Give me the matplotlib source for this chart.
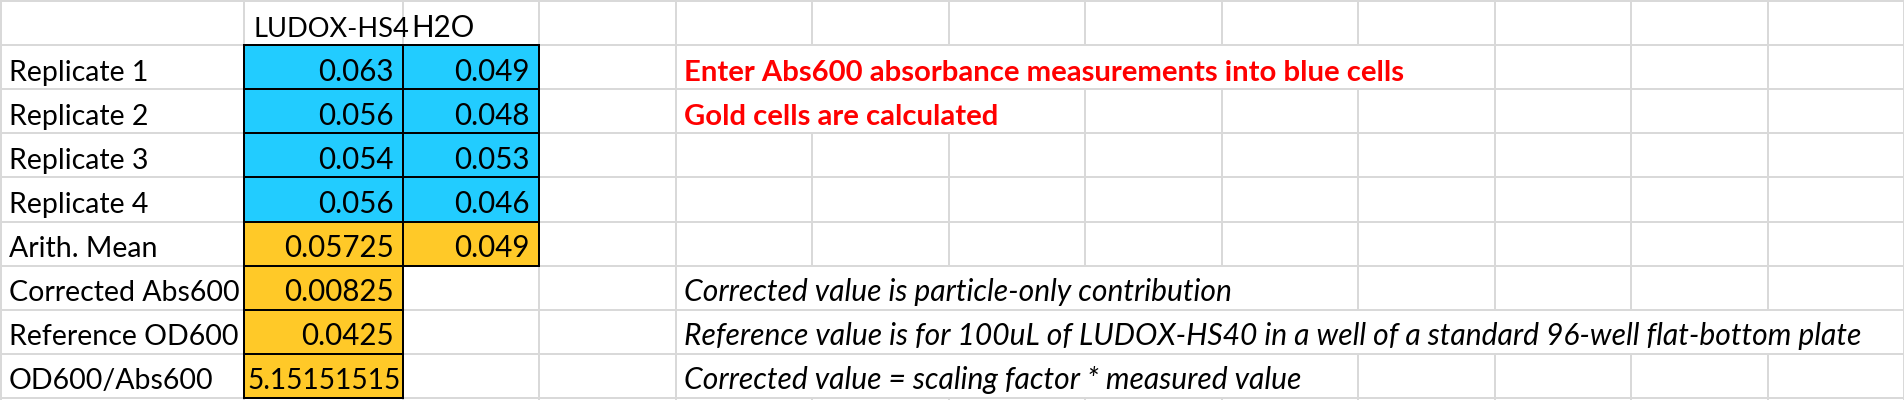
import matplotlib

matplotlib.use("Agg")
import matplotlib.pyplot as plt
from matplotlib.patches import Rectangle

# sheet content
header = ["LUDOX-HS4", "H2O"]
row_labels = ["Replicate 1", "Replicate 2", "Replicate 3", "Replicate 4", "Arith. Mean",
              "Corrected Abs600", "Reference OD600", "OD600/Abs600"]
ludox = [0.063, 0.056, 0.054, 0.056, 0.05725, 0.00825, 0.0425, 5.15151515]
h2o = [0.049, 0.048, 0.053, 0.046, 0.049]
ludox_kind = ["in", "in", "in", "in", "calc", "calc", "calc", "calc"]
h2o_kind = ["in", "in", "in", "in", "calc"]

# (sheet row, note text, style, last column the text runs over)
notes = [
    (1, "Enter Abs600 absorbance measurements into blue cells", "red", 9),
    (2, "Gold cells are calculated", "red", 6),
    (6, "Corrected value is particle-only contribution", "italic", 8),
    (7, "Reference value is for 100uL of LUDOX-HS40 in a well of a standard 96-well flat-bottom plate",
     "italic", 12),
    (8, "Corrected value = scaling factor * measured value", "italic", 8),
]

BLUE = "#22CCFF"
GOLD = "#FFC928"
GRID = "#D9D9D9"
FILL = {"in": BLUE, "calc": GOLD}

W, H = 1904, 400
col_x = [1, 244, 403, 539] + [539 + 136.5 * k for k in range(1, 11)]
row_y = [1 + 44.1 * i for i in range(10)]


def px(p):
    return p * 72 / 100


FS = px(29.5)        # values
FS_LABEL = px(28.5)  # row labels
FS_RED = px(29.3)
FS_NOTE = px(30.0)
LW = px(2)
plt.rcParams["font.family"] = ["Lato", "DejaVu Sans"]

fig = plt.figure(figsize=(W / 100, H / 100), dpi=100)
ax = fig.add_axes([0, 0, 1, 1])
ax.set_xlim(0, W)
ax.set_ylim(H, 0)
ax.axis("off")

# gridlines hidden where note text overflows into neighbour cells
hidden = set()
for r, _, _, last in notes:
    for j in range(5, last + 1):
        hidden.add((r, j))

for y in row_y:
    ax.plot([0, W], [y, y], color=GRID, lw=LW, solid_capstyle="butt", zorder=1)
for r in range(len(row_y)):
    y0 = row_y[r]
    y1 = row_y[r + 1] if r + 1 < len(row_y) else H
    for j, x in enumerate(col_x):
        if (r, j) in hidden:
            continue
        ax.plot([x, x], [y0, y1], color=GRID, lw=LW, solid_capstyle="butt", zorder=1)


def cell(r, c, kind):
    x0, x1 = col_x[c], col_x[c + 1]
    y0, y1 = row_y[r], row_y[r + 1]
    ax.add_patch(Rectangle((x0, y0), x1 - x0, y1 - y0, facecolor=FILL[kind],
                           edgecolor="black", lw=LW, zorder=2))


def num(v):
    return f"{v:.10g}"


def base(r):
    return row_y[r + 1] - 8.5


# header row
ax.text(col_x[1] + 9, base(0), header[0], fontsize=px(27.3), ha="left", va="baseline", zorder=4)
ax.text(col_x[2] + 8, base(0), header[1], fontsize=FS, ha="left", va="baseline", zorder=4)

for i, lbl in enumerate(row_labels):
    r = i + 1
    ax.text(col_x[0] + 8, base(r), lbl, fontsize=FS_LABEL, ha="left", va="baseline", zorder=4)
    cell(r, 1, ludox_kind[i])
    s = num(ludox[i])
    if len(s) > 8:  # number fills the whole column
        ax.text(col_x[2] - 2, base(r), s, fontsize=px(28), ha="right", va="baseline", zorder=4)
    else:
        ax.text(col_x[2] - 9.5, base(r), s, fontsize=FS, ha="right", va="baseline", zorder=4)
    if i < len(h2o):
        cell(r, 2, h2o_kind[i])
        ax.text(col_x[3] - 9.5, base(r), num(h2o[i]), fontsize=FS, ha="right",
                va="baseline", zorder=4)

for r, txt, style, _ in notes:
    if style == "red":
        ax.text(col_x[4] + 8, base(r), txt, fontsize=FS_RED, color="#FF0000", fontweight="bold",
                ha="left", va="baseline", zorder=4)
    else:
        ax.text(col_x[4] + 8, base(r), txt, fontsize=FS_NOTE, style="italic",
                ha="left", va="baseline", zorder=4)

fig.savefig("out.png", dpi=100, facecolor="white")
